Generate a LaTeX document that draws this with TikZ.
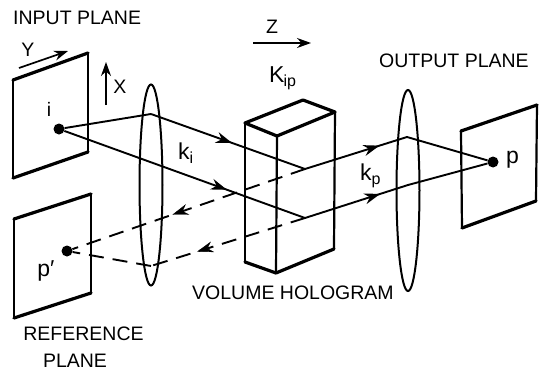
\documentclass[tikz,border=0pt]{standalone}
\usepackage{fontspec}
\setmainfont{Liberation Sans}
\usetikzlibrary{arrows.meta,decorations.markings,shapes.geometric}
\tikzset{
  labeltext/.style={inner sep=0pt, font=\fontsize{19.5}{22}\selectfont},
  symboltext/.style={inner sep=0pt, font=\fontsize{23}{25}\selectfont},
  frameedge/.style={line width=2.2pt, line join=round, line cap=round},
  heavyedge/.style={line width=3.2pt, line join=round, line cap=round},
  lensshape/.style={draw, ellipse, line width=2pt, inner sep=0pt, minimum width=23pt, minimum height=201pt},
  dotmark/.style={fill, circle, inner sep=0pt, minimum size=11pt},
  raysolid/.style={line width=1.9pt, line join=round},
  raydash/.style={line width=1.9pt, dash pattern=on 15pt off 9pt},
  axisarrow/.style={line width=1.7pt, -{Stealth[length=14pt,width=10pt]}},
  arrowat/.style={postaction={decorate}, decoration={markings,
    mark=at position #1 with {\arrow{Stealth[length=16pt,width=11pt]}}}}
}
\newcommand{\subtext}[1]{\raisebox{-4pt}{\fontsize{16}{16}\selectfont #1}}
\begin{document}
\begin{tikzpicture}[x=1pt, y=-1pt]
    \useasboundingbox (0,0) rectangle (542,372);

    % Plane frames: top left / top right / bottom right / bottom left
    \foreach \xa/\ya/\xb/\yb/\xc/\yc/\xd/\yd in {
      13/80/88/53/88/152/13/178,
      14/219/91/194/91/293/14/318,
      461/131/537/105/536/201/462/228%
    } {
      \draw[frameedge] (\xd,\yd) -- (\xa,\ya);
      \draw[frameedge] (\xb,\yb) -- (\xc,\yc);
      \draw[heavyedge] (\xa,\ya) -- (\xb,\yb);
      \draw[heavyedge] (\xc,\yc) -- (\xd,\yd);
    }

    % Lenses
    \node[lensshape] (lensA) at (151,185) {};
    \node[lensshape] (lensB) at (408,190.5) {};

    % Hologram block
    \coordinate (blockTL) at (245,123);
    \coordinate (blockTB) at (303,100);
    \coordinate (blockTR) at (335,112);
    \coordinate (blockTF) at (277,136);
    \coordinate (blockBL) at (245,262);
    \coordinate (blockBF) at (276,273);
    \coordinate (blockBR) at (334,249);
    \draw[frameedge] (blockTL) -- (blockBL);
    \draw[frameedge] (blockTF) -- (blockBF);
    \draw[frameedge] (blockTR) -- (blockBR);
    \draw[heavyedge] (blockTL) -- (blockTB) -- (blockTR) -- (blockTF) -- cycle;
    \draw[heavyedge] (blockBL) -- (blockBF) -- (blockBR);

    % Focal points
    \node[dotmark] (i) at (59,129) {};
    \node[dotmark] (pout) at (493,162) {};
    \node[dotmark] (pref) at (67,251) {};

    % Ray bends
    \coordinate (lensAtop) at (151,114);
    \coordinate (gratingA) at (305,169);
    \coordinate (gratingB) at (305,218);
    \coordinate (lensBtop) at (407,137);
    \coordinate (lensBlow) at (408,185);
    \coordinate (lensAdash) at (151,266);

    % Solid rays
    \draw[raysolid] (i) -- (lensAtop);
    \draw[raysolid, arrowat=0.526] (lensAtop) -- (gratingA);
    \draw[raysolid, arrowat=0.675] (i) -- (gratingB);
    \draw[raysolid, arrowat=0.73] (gratingA) -- (lensBtop);
    \draw[raysolid, arrowat=0.73] (gratingB) -- (lensBlow);
    \draw[raysolid] (lensBtop) -- (pout);
    \draw[raysolid] (lensBlow) -- (pout);

    % Dashed return rays
    \draw[raydash] (gratingA) -- (pref);
    \path[arrowat=0.57] (gratingA) -- (pref);
    \draw[raydash] (gratingB) -- (lensAdash);
    \draw[raydash] (lensAdash) -- (pref);
    \path[arrowat=0.70] (gratingB) -- (lensAdash);

    % Axis arrows
    \coordinate (yfrom) at (19,68);
    \coordinate (yto) at (68,51);
    \coordinate (xfrom) at (106,105);
    \coordinate (xto) at (106,62);
    \coordinate (zfrom) at (253,43);
    \coordinate (zto) at (311,43);
    \draw[axisarrow] (yfrom) -- (yto);
    \draw[axisarrow] (xfrom) -- (xto);
    \draw[axisarrow] (zfrom) -- (zto);

    % Labels
    \node[labeltext, anchor=west] (inputlabel) at (13,18) {INPUT PLANE};
    \node[labeltext, anchor=west] (outputlabel) at (379,61) {OUTPUT PLANE};
    \node[labeltext, anchor=west] (hololabel) at (192,293) {VOLUME HOLOGRAM};
    \node[labeltext] (reflabelA) at (83.5,334) {REFERENCE};
    \node[labeltext] (reflabelB) at (75,361) {PLANE};
    \node[labeltext] (ylabel) at (28,50) {Y};
    \node[labeltext] (xlabel) at (120,87) {X};
    \node[labeltext] (zlabel) at (272,27) {Z};
    \node[labeltext] (ilabel) at (49,109) {i};
    \node[symboltext, anchor=west] (kgrating) at (269,78) {K\kern-1pt\subtext{ip}};
    \node[symboltext, anchor=west] (kinput) at (178,153) {k\subtext{i}};
    \node[symboltext, anchor=west] (koutput) at (360,176) {k\subtext{p}};
    \node[symboltext] (plabel) at (512.5,160) {p};
    \node[symboltext] (preflabel) at (46,271) {p′};
\end{tikzpicture}
\end{document}
